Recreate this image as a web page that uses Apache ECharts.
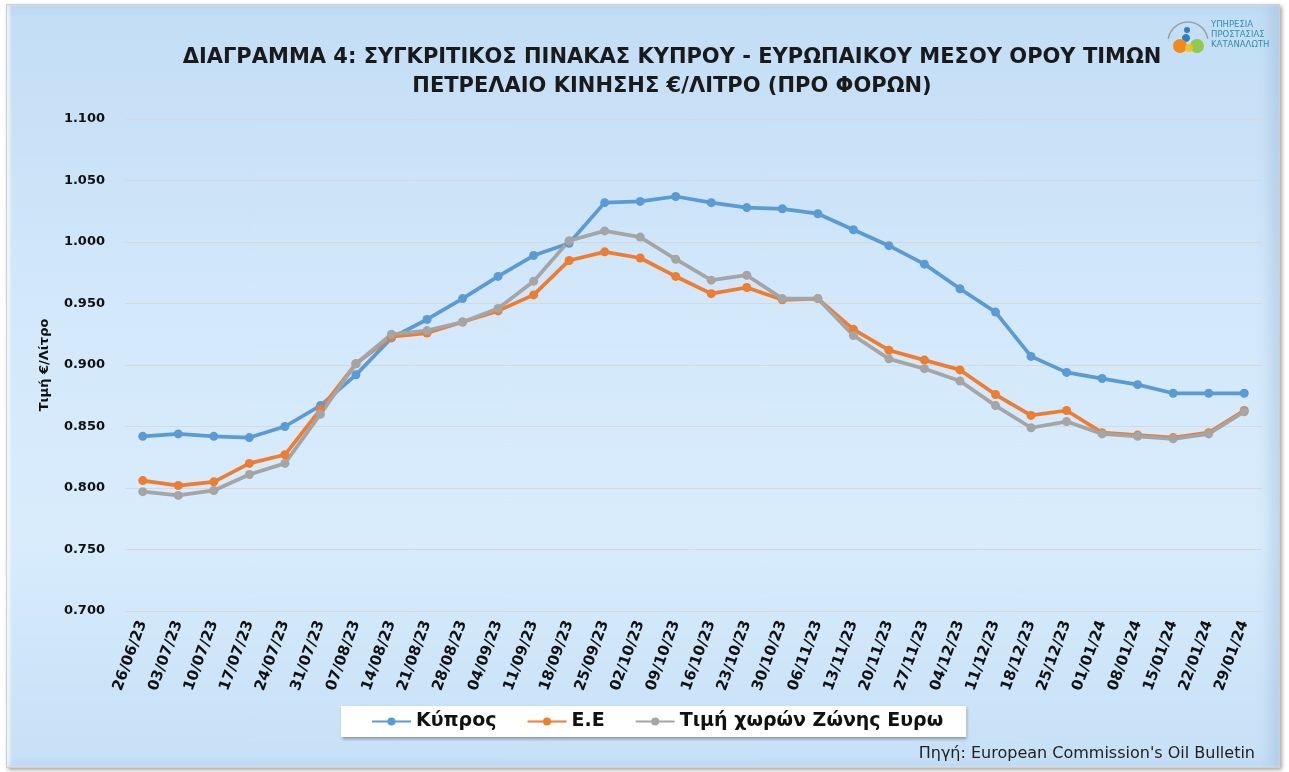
<!DOCTYPE html>
<html>
<head>
<meta charset="utf-8">
<script src="https://cdn.jsdelivr.net/npm/echarts@6/dist/echarts.min.js"></script>
<style>
  html, body { margin: 0; padding: 0; background: #ffffff; }
  #frame {
    position: absolute; left: 6px; top: 4px; width: 1272px; height: 762px;
    background: linear-gradient(180deg, #c2ddf5 0%, #d3e8fa 40%, #d8ecfc 70%, #c6e0f7 100%);
    border: 1px solid #cfcfcf;
    box-shadow: 2px 2px 4px rgba(0,0,0,0.35), inset -10px 0 12px rgba(120,160,200,0.25), inset 3px 0 3px rgba(255,255,255,0.7);
  }
  #main { position: absolute; left: 0; top: 0; width: 1289px; height: 772px; }
</style>
</head>
<body>
<div id="frame"></div>
<div id="main"></div>
<script>
// εβδομάδες (ημερομηνίες δελτίου)
const dates = ['26/06/23','03/07/23','10/07/23','17/07/23','24/07/23','31/07/23','07/08/23','14/08/23',
  '21/08/23','28/08/23','04/09/23','11/09/23','18/09/23','25/09/23','02/10/23','09/10/23',
  '16/10/23','23/10/23','30/10/23','06/11/23','13/11/23','20/11/23','27/11/23','04/12/23',
  '11/12/23','18/12/23','25/12/23','01/01/24','08/01/24','15/01/24','22/01/24','29/01/24'];

// τιμές €/λίτρο
const cyprus = [0.842,0.844,0.842,0.841,0.850,0.867,0.892,0.922,0.937,0.954,0.972,0.989,0.999,1.032,1.033,1.037,
  1.032,1.028,1.027,1.023,1.010,0.997,0.982,0.962,0.943,0.907,0.894,0.889,0.884,0.877,0.877,0.877];
const eu = [0.806,0.802,0.805,0.820,0.827,0.864,0.901,0.923,0.926,0.935,0.944,0.957,0.985,0.992,0.987,0.972,
  0.958,0.963,0.953,0.954,0.929,0.912,0.904,0.896,0.876,0.859,0.863,0.845,0.843,0.841,0.845,0.863];
const euroZone = [0.797,0.794,0.798,0.811,0.820,0.860,0.901,0.925,0.928,0.935,0.946,0.968,1.001,1.009,1.004,0.986,
  0.969,0.973,0.954,0.954,0.924,0.905,0.897,0.887,0.867,0.849,0.854,0.844,0.842,0.840,0.844,0.862];

const seriesNames = ['Κύπρος', 'Ε.Ε', 'Τιμή χωρών Ζώνης Ευρω'];
const seriesColors = ['#5b9bd5', '#ed7d31', '#a5a5a5'];
const yMin = 0.7, yMax = 1.1, yStep = 0.05;

const font = 'DejaVu Sans, Verdana, sans-serif';

const chart = echarts.init(document.getElementById('main'));

function lineSeries(name, data, color) {
  return {
    name: name,
    type: 'line',
    data: data,
    symbol: 'circle',
    symbolSize: 9,
    lineStyle: { color: color, width: 3.75 },
    itemStyle: { color: color },
    emphasis: { disabled: true }
  };
}

chart.setOption({
  backgroundColor: 'transparent',
  animation: false,
  title: {
    text: 'ΔΙΑΓΡΑΜΜΑ 4: ΣΥΓΚΡΙΤΙΚΟΣ ΠΙΝΑΚΑΣ ΚΥΠΡΟΥ - ΕΥΡΩΠΑΙΚΟΥ ΜΕΣΟΥ ΟΡΟΥ ΤΙΜΩΝ\nΠΕΤΡΕΛΑΙΟ ΚΙΝΗΣΗΣ €/ΛΙΤΡΟ (ΠΡΟ ΦΟΡΩΝ)',
    left: 667,
    top: 38,
    textAlign: 'center',
    textStyle: { fontFamily: font, fontSize: 21, fontWeight: 'bold', color: '#1a1a1a', lineHeight: 29 }
  },
  legend: {
    data: seriesNames,
    left: 341,
    top: 706,
    itemWidth: 39,
    itemHeight: 10,
    itemGap: 30,
    padding: [6, 23, 6, 30],
    backgroundColor: '#ffffff',
    shadowColor: 'rgba(0,0,0,0.35)',
    shadowBlur: 3,
    shadowOffsetX: 1,
    shadowOffsetY: 2,
    textStyle: { fontFamily: font, fontSize: 19, fontWeight: 'bold', color: '#111' }
  },
  grid: { left: 125, right: 27, top: 119, bottom: 161, containLabel: false },
  xAxis: {
    type: 'category',
    data: dates,
    boundaryGap: true,
    axisLine: { show: false },
    axisTick: { show: false },
    axisLabel: {
      interval: 0,
      rotate: 70,
      margin: 10,
      fontFamily: font,
      fontSize: 15,
      fontWeight: 'bold',
      color: '#111'
    }
  },
  yAxis: {
    type: 'value',
    min: yMin,
    max: yMax,
    interval: yStep,
    name: 'Τιμή €/Λίτρο',
    nameLocation: 'middle',
    nameRotate: 90,
    nameGap: 74,
    nameTextStyle: { fontFamily: font, fontSize: 13, fontWeight: 'bold', color: '#111' },
    axisLine: { show: false },
    axisTick: { show: false },
    axisLabel: {
      margin: 20,
      fontFamily: font,
      fontSize: 13,
      fontWeight: 'bold',
      color: '#111',
      formatter: v => v.toFixed(3)
    },
    splitLine: { lineStyle: { color: '#d5d9dd', width: 1 } }
  },
  series: [
    lineSeries(seriesNames[0], cyprus, seriesColors[0]),
    lineSeries(seriesNames[1], eu, seriesColors[1]),
    lineSeries(seriesNames[2], euroZone, seriesColors[2])
  ],
  graphic: [
    // πηγή
    {
      type: 'text', right: 34, top: 746,
      style: { text: "Πηγή: European Commission's Oil Bulletin", font: '16px DejaVu Sans', fill: '#222' }
    },
    // λογότυπο
    { type: 'arc', shape: { cx: 1188, cy: 42, r: 20, startAngle: Math.PI * 1.05, endAngle: Math.PI * 1.95 },
      style: { stroke: '#9aa3ab', lineWidth: 1.5, fill: null } },
    { type: 'circle', shape: { cx: 1187, cy: 30, r: 3 }, style: { fill: '#2b7fc3' } },
    { type: 'ellipse', shape: { cx: 1186, cy: 38, rx: 4, ry: 4 }, style: { fill: '#2b7fc3' } },
    { type: 'circle', shape: { cx: 1180, cy: 46, r: 7 }, style: { fill: '#f08a1c' } },
    { type: 'circle', shape: { cx: 1197, cy: 46, r: 7 }, style: { fill: '#8cc63e', opacity: 0.9 } },
    { type: 'circle', shape: { cx: 1189, cy: 48, r: 4 }, style: { fill: '#f2c21b', opacity: 0.9 } },
    {
      type: 'text', left: 1211, top: 20,
      style: { text: 'ΥΠΗΡΕΣΙΑ\nΠΡΟΣΤΑΣΙΑΣ\nΚΑΤΑΝΑΛΩΤΗ', font: '8.5px DejaVu Sans', fill: '#2d8fae', lineHeight: 10 }
    }
  ]
});
</script>
</body>
</html>
